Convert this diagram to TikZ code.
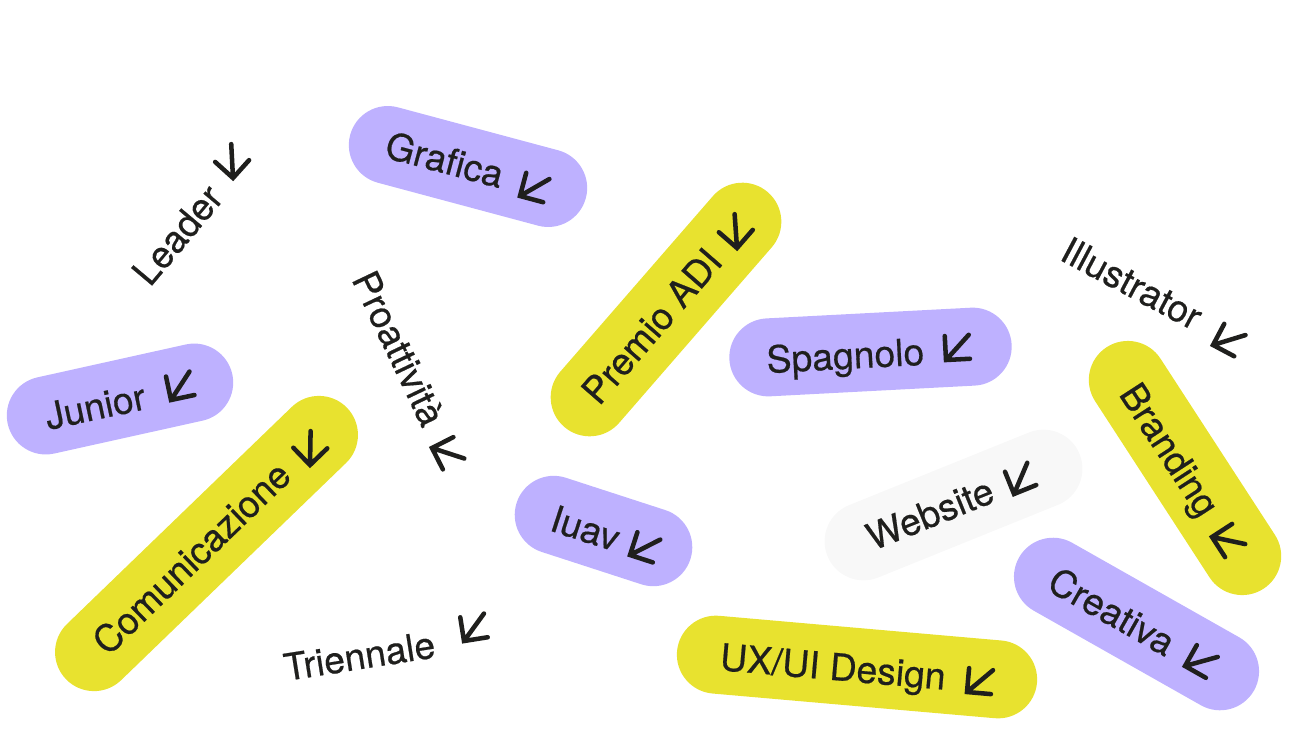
\documentclass[tikz,border=0pt]{standalone}
\usepackage{fontspec}
\setmainfont[FakeBold=0.5]{TeX Gyre Heros}
\usepackage{xcolor}
\definecolor{lilac}{HTML}{BEB1FF}
\definecolor{lime}{HTML}{E8E22F}
\definecolor{mist}{HTML}{F8F8F8}
\definecolor{ink}{HTML}{1F1F1D}

\begin{document}
\begin{tikzpicture}[
    x=0.75pt, y=-0.75pt,
    pill/.style={rectangle, minimum height=58.5pt, rounded corners=29.25pt, inner sep=0pt},
    tagtext/.style={anchor=base west, inner sep=0pt, text=ink, font=\fontsize{28}{32}\selectfont},
    swarrow/.pic={\draw[ink, line width=3.4pt, line cap=round] (0,-24) -- (0,0) -- (24,0) (0,0) -- (24,-24);}
]
    \useasboundingbox (0,0) rectangle (1313,747);

    % Lilac tags
    \node[pill, fill=lilac, minimum width=183pt, rotate=-15] (grafica) at (468,166.5) {};
    \node[tagtext, rotate=-15] (graficatext) at (383,157) {Grafica};
    \pic[rotate=-15] at (520,196) {swarrow};

    \node[pill, fill=lilac, minimum width=172.5pt, rotate=12.5] (junior) at (120,399) {};
    \node[tagtext, rotate=12] (juniortext) at (48,430) {Junior};
    \pic[rotate=12] at (171,400) {swarrow};

    \node[pill, fill=lilac, minimum width=212pt, rotate=3] (spagnolo) at (870.5,352) {};
    \node[tagtext, rotate=3] (spagnolotext) at (767,373) {Spagnolo};
    \pic[rotate=3] at (946,360) {swarrow};

    \node[pill, fill=lilac, minimum width=137pt, rotate=-18] (iuav) at (603.5,531) {};
    \node[tagtext, rotate=-18] (iuavtext) at (548,530) {Iuav};
    \pic[rotate=-18] at (630,555) {swarrow};

    \node[pill, fill=lilac, minimum width=202.5pt, rotate=-29.5] (creativa) at (1136.5,624) {};
    \node[tagtext, rotate=-29.5] (creativatext) at (1045,589) {Creativa};
    \pic[rotate=-29.5] at (1185,666) {swarrow};

    % Lime tags
    \node[pill, fill=lime, minimum width=293pt, rotate=44] (comunicazione) at (206.5,543.5) {};
    \node[tagtext, rotate=44] (comunicazionetext) at (108,657) {Comunicazione};
    \pic[rotate=44] at (310,465) {swarrow};

    \node[pill, fill=lime, minimum width=233pt, rotate=49] (premio) at (666,309.5) {};
    \node[tagtext, rotate=49] (premiotext) at (599,407) {Premio ADI};
    \pic[rotate=49] at (737,248) {swarrow};

    \node[pill, fill=lime, minimum width=216pt, rotate=-57] (branding) at (1185,468) {};
    \node[tagtext, rotate=-57] (brandingtext) at (1118,394) {Branding};
    \pic[rotate=-57] at (1212,537) {swarrow};

    \node[pill, fill=lime, minimum width=271pt, rotate=-5] (uxui) at (857,667) {};
    \node[tagtext, rotate=-5] (uxuitext) at (719,670) {UX/UI Design};
    \pic[rotate=-5] at (967,692) {swarrow};

    % Pale tag
    \node[pill, fill=mist, minimum width=204pt, rotate=22] (website) at (953.5,505) {};
    \node[tagtext, rotate=22] (websitetext) at (873,551) {Website};
    \pic[rotate=22] at (1014,494) {swarrow};

    % Bare labels
    \node[tagtext, rotate=50] (leadertext) at (150,288) {Leader};
    \pic[rotate=48] at (233,178) {swarrow};

    \node[tagtext, rotate=-64.5] (proattivitatext) at (351,279) {Proattività};
    \pic[rotate=-63] at (432,448) {swarrow};

    \node[tagtext, rotate=9] (triennaletext) at (286,681) {Triennale};
    \pic[rotate=9] at (464,641) {swarrow};

    \node[tagtext, rotate=-28] (illustratortext) at (1058,259) {Illustrator};
    \pic[rotate=-28] at (1213,345) {swarrow};
\end{tikzpicture}
\end{document}
